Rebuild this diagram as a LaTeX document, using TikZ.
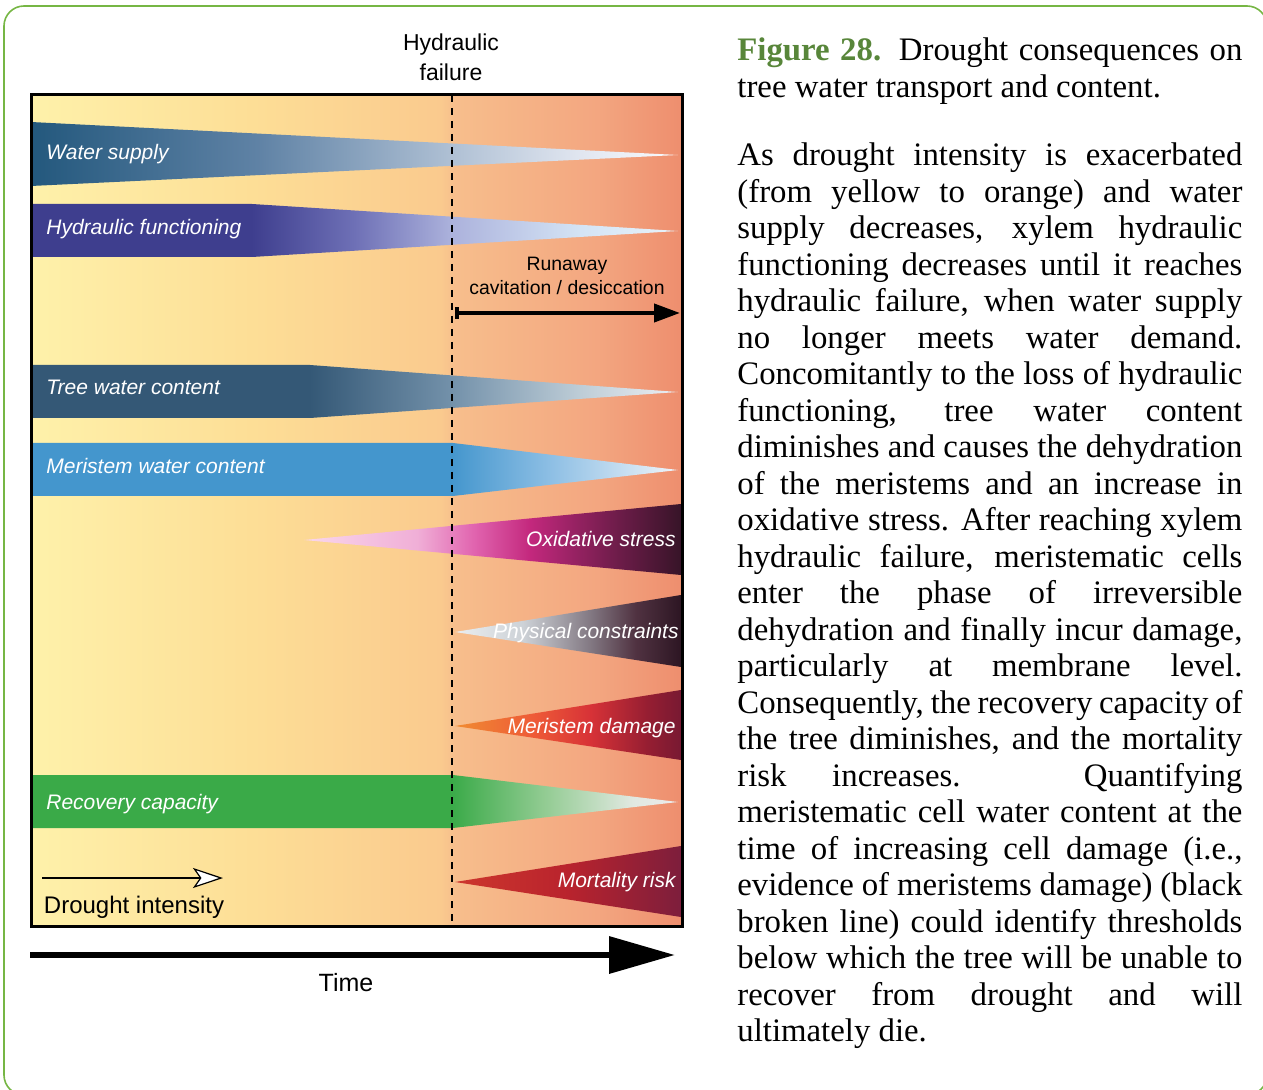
\documentclass[tikz,border=0pt]{standalone}
\usepackage{fontspec}
\setmainfont{Liberation Serif}
\newfontfamily\figfont{Liberation Sans}
\usetikzlibrary{arrows.meta,positioning}

\definecolor{capgreen}{RGB}{88,134,58}
\definecolor{framegreen}{RGB}{118,182,68}
% background, yellow to salmon
\definecolor{bgA}{RGB}{254,241,170}
\definecolor{bgB}{RGB}{253,222,150}
\definecolor{bgC}{RGB}{250,202,142}
\definecolor{bgD}{RGB}{247,190,140}
\definecolor{bgE}{RGB}{243,166,128}
\definecolor{bgF}{RGB}{238,142,110}
% bands
\definecolor{wsA}{RGB}{35,88,125}
\definecolor{wsB}{RGB}{95,130,165}
\definecolor{wsC}{RGB}{175,192,212}
\definecolor{wsD}{RGB}{225,230,240}
\definecolor{wsE}{RGB}{250,250,252}
\definecolor{hfA}{RGB}{62,62,142}
\definecolor{hfB}{RGB}{110,112,182}
\definecolor{hfC}{RGB}{172,178,220}
\definecolor{hfD}{RGB}{212,228,245}
\definecolor{hfE}{RGB}{232,243,250}
\definecolor{twA}{RGB}{52,88,118}
\definecolor{twB}{RGB}{115,145,170}
\definecolor{twC}{RGB}{190,205,215}
\definecolor{twD}{RGB}{236,239,243}
\definecolor{mwA}{RGB}{68,150,205}
\definecolor{mwB}{RGB}{140,190,228}
\definecolor{mwC}{RGB}{240,245,250}
\definecolor{rcA}{RGB}{58,170,72}
\definecolor{rcB}{RGB}{150,205,150}
\definecolor{rcC}{RGB}{225,232,225}
\definecolor{rcD}{RGB}{236,236,236}
\definecolor{osA}{RGB}{250,215,235}
\definecolor{osB}{RGB}{240,175,215}
\definecolor{osC}{RGB}{225,100,175}
\definecolor{osD}{RGB}{195,40,125}
\definecolor{osE}{RGB}{120,30,80}
\definecolor{osF}{RGB}{55,20,40}
\definecolor{pcA}{RGB}{235,238,240}
\definecolor{pcB}{RGB}{205,210,215}
\definecolor{pcC}{RGB}{130,120,130}
\definecolor{pcD}{RGB}{80,50,65}
\definecolor{pcE}{RGB}{45,22,35}
\definecolor{mdA}{RGB}{240,140,50}
\definecolor{mdB}{RGB}{238,90,55}
\definecolor{mdC}{RGB}{215,50,55}
\definecolor{mdD}{RGB}{150,30,50}
\definecolor{mdE}{RGB}{120,25,50}
\definecolor{mrA}{RGB}{205,55,45}
\definecolor{mrB}{RGB}{185,35,45}
\definecolor{mrC}{RGB}{125,30,60}

\pgfdeclarehorizontalshading{drybg}{100bp}{color(0bp)=(bgA); color(25bp)=(bgA); color(42bp)=(bgB); color(56.5bp)=(bgC); color(57.5bp)=(bgD); color(68.5bp)=(bgE); color(75bp)=(bgF); color(100bp)=(bgF)}
\pgfdeclarehorizontalshading{wsup}{100bp}{color(0bp)=(wsA); color(25bp)=(wsA); color(42.5bp)=(wsB); color(57.5bp)=(wsC); color(67.5bp)=(wsD); color(75bp)=(wsE); color(100bp)=(wsE)}
\pgfdeclarehorizontalshading{hydf}{100bp}{color(0bp)=(hfA); color(42bp)=(hfA); color(50bp)=(hfB); color(57.5bp)=(hfC); color(67.5bp)=(hfD); color(75bp)=(hfE); color(100bp)=(hfE)}
\pgfdeclarehorizontalshading{treew}{100bp}{color(0bp)=(twA); color(46.5bp)=(twA); color(57.5bp)=(twB); color(67.5bp)=(twC); color(75bp)=(twD); color(100bp)=(twD)}
\pgfdeclarehorizontalshading{meriw}{100bp}{color(0bp)=(mwA); color(57.5bp)=(mwA); color(65bp)=(mwB); color(75bp)=(mwC); color(100bp)=(mwC)}
\pgfdeclarehorizontalshading{recov}{100bp}{color(0bp)=(rcA); color(57.5bp)=(rcA); color(65bp)=(rcB); color(71.5bp)=(rcC); color(75bp)=(rcD); color(100bp)=(rcD)}
\pgfdeclarehorizontalshading{oxid}{100bp}{color(0bp)=(osA); color(25bp)=(osA); color(40bp)=(osB); color(47.5bp)=(osC); color(55bp)=(osD); color(65bp)=(osE); color(75bp)=(osF); color(100bp)=(osF)}
\pgfdeclarehorizontalshading{phys}{100bp}{color(0bp)=(pcA); color(25bp)=(pcA); color(40bp)=(pcB); color(55bp)=(pcC); color(65bp)=(pcD); color(75bp)=(pcE); color(100bp)=(pcE)}
\pgfdeclarehorizontalshading{mdam}{100bp}{color(0bp)=(mdA); color(25bp)=(mdA); color(42.5bp)=(mdB); color(55bp)=(mdC); color(67.5bp)=(mdD); color(75bp)=(mdE); color(100bp)=(mdE)}
\pgfdeclarehorizontalshading{mort}{100bp}{color(0bp)=(mrA); color(25bp)=(mrA); color(50bp)=(mrB); color(75bp)=(mrC); color(100bp)=(mrC)}

\begin{document}
\begin{tikzpicture}[x=0.5pt,y=-0.5pt]
   \tikzstyle{band label}=[font=\figfont\fontsize{10.5}{12}\selectfont\itshape, text=white, inner sep=0pt]
   \tikzstyle{axis text}=[font=\figfont\fontsize{12}{15}\selectfont, inner sep=0pt]
   \tikzstyle{caption text}=[font=\fontsize{16.4}{18.25}\selectfont, text width=252.5pt, align=justify, inner sep=0pt, anchor=base west]
   \tikzstyle{failure line}=[line width=1pt, dash pattern=on 3.5pt off 3pt]

\useasboundingbox (0,0) rectangle (1263,1090);
\begin{scope}
   \clip (0,0) rectangle (1263,1090);
   \draw[framegreen, line width=0.8pt, rounded corners=10pt] (4,6) rectangle (1267,1095);
\end{scope}

% plot area
\coordinate (nw) at (31,95);
\coordinate (se) at (682,926);
\shade[shading=drybg] (nw) rectangle (se);

% bands
\shade[shading=wsup]  (31,122) -- (678,155) -- (31,186) -- cycle;
\shade[shading=hydf]  (31,204) -- (252,204) -- (678,231) -- (252,257) -- (31,257) -- cycle;
\shade[shading=treew] (31,365) -- (310,365) -- (678,392) -- (310,418) -- (31,418) -- cycle;
\shade[shading=meriw] (31,443) -- (453,443) -- (678,470) -- (453,496) -- (31,496) -- cycle;
\shade[shading=oxid]  (304,540) -- (681,504) -- (681,575) -- cycle;
\shade[shading=phys]  (455,632) -- (681,595) -- (681,667) -- cycle;
\shade[shading=mdam]  (455,726) -- (681,690) -- (681,760) -- cycle;
\shade[shading=recov] (31,775) -- (453,775) -- (678,802) -- (453,828) -- (31,828) -- cycle;
\shade[shading=mort]  (455,882) -- (681,846) -- (681,917) -- cycle;

\draw[line width=1.5pt] (nw) rectangle (se);

% hydraulic failure
\coordinate (hftop) at (452,95);
\coordinate (hfbot) at (452,926);
\draw[failure line] (hftop) -- (hfbot);
\node[axis text, font=\figfont\fontsize{11.5}{15}\selectfont, align=center] (hf) at (451,57) {Hydraulic\\failure};

% runaway
\node[axis text, font=\figfont\fontsize{9.7}{12}\selectfont, align=center] (run) at (567,276) {Runaway\\cavitation / desiccation};
\coordinate (ra1) at (455,313);
\coordinate (ra2) at (680,313);
\draw[line width=2pt, {Bar[width=6pt]}-{Triangle[length=13pt,width=9pt]}] (ra1) -- (ra2);

% band labels
\node[band label, anchor=base west] (lws) at (46,160) {Water supply};
\node[band label, anchor=base west] (lhf) at (46,235) {Hydraulic functioning};
\node[band label, anchor=base west] (ltw) at (46,395) {Tree water content};
\node[band label, anchor=base west] (lmw) at (46,474) {Meristem water content};
\node[band label, anchor=base east] (los) at (676,546) {Oxidative stress};
\node[band label, anchor=base east] (lpc) at (679,638) {Physical constraints};
\node[band label, anchor=base east] (lmd) at (676,733) {Meristem damage};
\node[band label, anchor=base west] (lrc) at (46,809) {Recovery capacity};
\node[band label, anchor=base east] (lmr) at (676,887) {Mortality risk};

% drought intensity
\coordinate (d0) at (42,878);
\coordinate (d1) at (223,878);
\draw[line width=1pt, -{Stealth[length=15pt,width=10pt,inset=3.5pt,fill=white,line width=0.6pt]}] (d0) -- (d1);
\node[axis text] (dri) at (134,907) {Drought intensity};

% time axis
\coordinate (t0) at (30,955);
\coordinate (t1) at (675,955);
\draw[line width=3.3pt, -{Triangle[length=33pt,width=18pt]}] (t0) -- (t1);
\node[axis text, font=\figfont\fontsize{12.5}{15}\selectfont] (time) at (346,983) {Time};

% caption
\node[caption text] (figcap) at (737,61) {{\bfseries\color{capgreen}Figure 28.} Drought consequences on\linebreak
tree water transport and content.};
\node[caption text] (figtext) at (737,166) {As drought intensity is exacerbated\linebreak
(from yellow to orange) and water\linebreak
supply decreases, xylem hydraulic\linebreak
functioning decreases until it reaches\linebreak
hydraulic failure, when water supply\linebreak
no longer meets water demand.\linebreak
Concomitantly to the loss of hydraulic\linebreak
functioning, tree water content\linebreak
diminishes and causes the dehydration\linebreak
of the meristems and an increase in\linebreak
oxidative stress. After reaching xylem\linebreak
hydraulic failure, meristematic cells\linebreak
enter the phase of irreversible\linebreak
dehydration and finally incur damage,\linebreak
particularly at membrane level.\linebreak
Consequently, the recovery capacity of\linebreak
the tree diminishes, and the mortality\linebreak
risk increases. Quantifying\linebreak
meristematic cell water content at the\linebreak
time of increasing cell damage (i.e.,\linebreak
evidence of meristems damage) (black\linebreak
broken line) could identify thresholds\linebreak
below which the tree will be unable to\linebreak
recover from drought and will\linebreak
ultimately die.};

\end{tikzpicture}
\end{document}
